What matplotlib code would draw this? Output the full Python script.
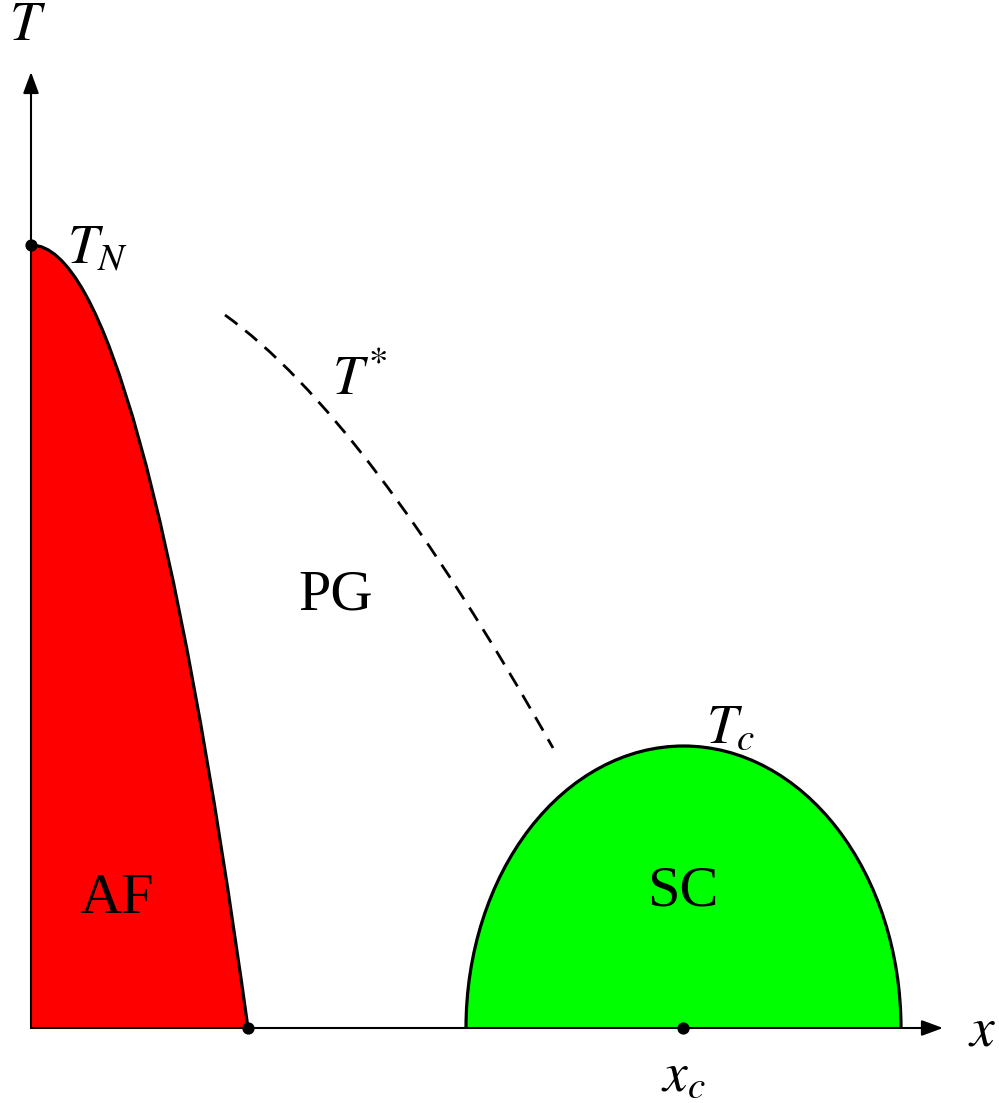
import matplotlib
matplotlib.use('Agg')
import matplotlib.pyplot as plt
from matplotlib.path import Path
from matplotlib.patches import PathPatch
from matplotlib.transforms import Affine2D

plt.rcParams['font.family'] = 'serif'
plt.rcParams['font.serif'] = ['Liberation Serif', 'DejaVu Serif']
plt.rcParams['mathtext.fontset'] = 'stix'

# Schematic phase diagram, arbitrary units (doping x, temperature T)
# antiferromagnet: quadratic Bezier from T_N down to the end of the AF phase
af_curve = [(0.0, 7.83), (1.085, 7.83), (2.17, 0.0)]
t_neel = af_curve[0]
x_af_end = af_curve[-1]

# pseudogap crossover T*: quadratic Bezier (start, control, end)
tstar_curve = [(1.94, 7.13), (3.35, 6.12), (5.22, 2.80)]

# superconducting dome: half ellipse
sc_onset = 4.35
sc_end = 8.70
x_c = 6.525
t_c = 2.82

x_axis_end = 9.12
t_axis_end = 9.56

fig = plt.figure(figsize=(9.99, 11.03), dpi=100)
ax = fig.add_axes([0, 0, 1, 1])
ax.set_xlim(-0.31, 9.68)
ax.set_ylim(-0.75, 10.28)
ax.axis('off')

# AF region
(x0, y0), (cx, cy), (x1, y1) = af_curve
af_fill = Path([(0, 0), (x0, y0), (cx, cy), (x1, y1), (0, 0)],
               [Path.MOVETO, Path.LINETO, Path.CURVE3, Path.CURVE3, Path.CLOSEPOLY])
ax.add_patch(PathPatch(af_fill, facecolor='#ff0000', edgecolor='none', zorder=1))
af_line = Path(af_curve, [Path.MOVETO, Path.CURVE3, Path.CURVE3])
ax.add_patch(PathPatch(af_line, facecolor='none', edgecolor='black', lw=2.3,
                       capstyle='round', zorder=3))

# SC dome
half_w = (sc_end - sc_onset) / 2
dome_tr = Affine2D().scale(half_w, t_c).translate((sc_onset + sc_end) / 2, 0)
arc = Path.arc(0, 180)
dome_line = dome_tr.transform_path(arc)
dome_fill = Path(list(dome_line.vertices) + [dome_line.vertices[0]],
                 list(dome_line.codes) + [Path.CLOSEPOLY])
ax.add_patch(PathPatch(dome_fill, facecolor='#00ff00', edgecolor='none', zorder=1))
ax.add_patch(PathPatch(dome_line, facecolor='none', edgecolor='black', lw=2.3, zorder=3))

# T* crossover line
tstar = Path(tstar_curve, [Path.MOVETO, Path.CURVE3, Path.CURVE3])
ax.add_patch(PathPatch(tstar, facecolor='none', edgecolor='black', lw=2.0,
                       linestyle=(0, (5.6, 3.6)), zorder=3))

# axes with arrows
arrow = dict(arrowstyle='-|>,head_length=0.65,head_width=0.24', lw=1.5,
             color='black', mutation_scale=20, shrinkA=0, shrinkB=0)
ax.annotate('', xy=(x_axis_end, 0), xytext=(0, 0), arrowprops=arrow, zorder=4)
ax.annotate('', xy=(0, t_axis_end), xytext=(0, 0), arrowprops=arrow, zorder=4)

# marked points
ax.plot([t_neel[0], x_af_end[0], x_c], [t_neel[1], x_af_end[1], 0], 'o',
        color='black', markersize=7.8, zorder=5)

fs = 40
ax.text(-0.03, 10.02, r'$T$', fontsize=fs, ha='center', va='center')
ax.text(0.36, 7.65, r'$T_N$', fontsize=fs, ha='left', va='baseline')
ax.text(3.01, 6.33, r'$T^{*}$', fontsize=fs, ha='left', va='baseline')
ax.text(6.75, 2.86, r'$T_c$', fontsize=fs, ha='left', va='baseline')
ax.text(9.51, -0.17, r'$x$', fontsize=fs, ha='center', va='baseline')
ax.text(x_c, -0.62, r'$x_c$', fontsize=fs, ha='center', va='baseline')
ax.text(3.05, 4.33, 'PG', fontsize=42, ha='center', va='center')
ax.text(0.86, 1.29, 'AF', fontsize=42, ha='center', va='center')
ax.text(6.52, 1.37, 'SC', fontsize=42, ha='center', va='center')

fig.savefig('out.png', dpi=100, facecolor='white')
